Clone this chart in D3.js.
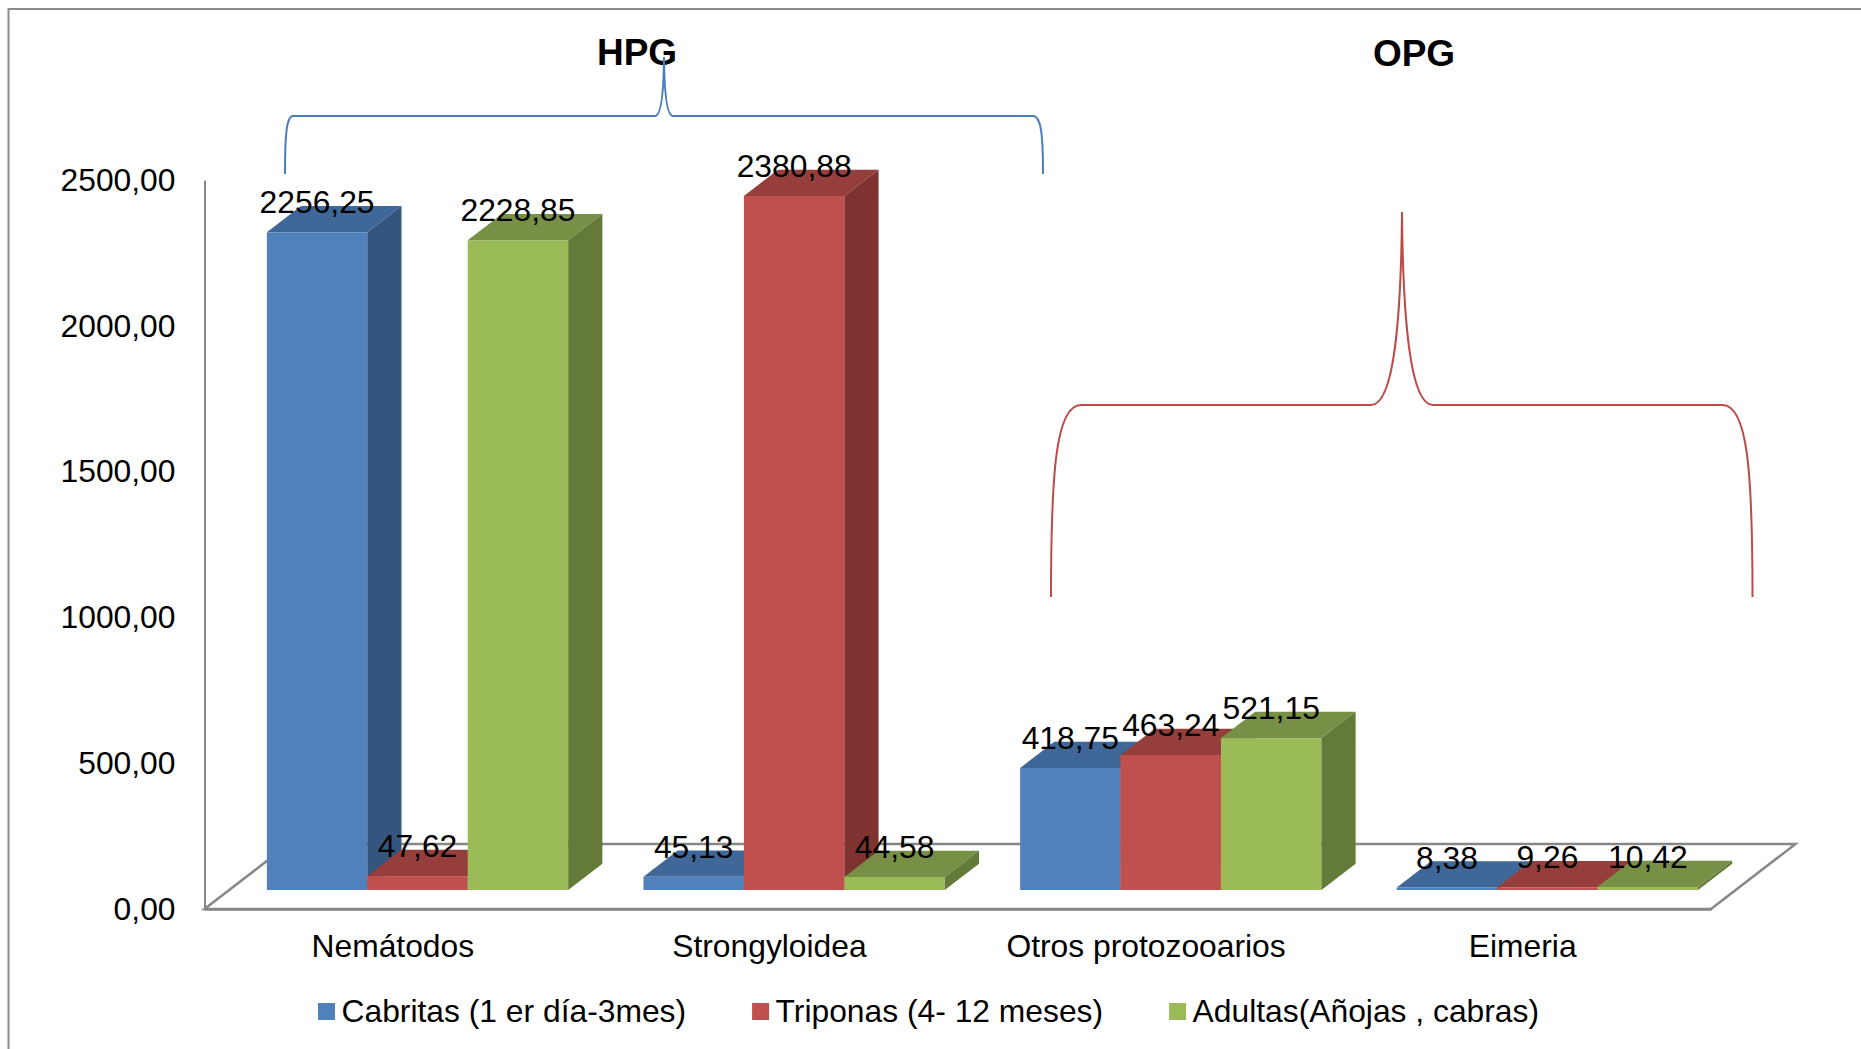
<!DOCTYPE html>
<html>
<head>
<meta charset="utf-8">
<script src="https://cdn.jsdelivr.net/npm/d3@7"></script>
<style>
  html, body { margin: 0; padding: 0; background: #ffffff; }
  svg { display: block; }
  text { font-family: "Liberation Sans", Arial, sans-serif; fill: #000; }
</style>
</head>
<body>
<svg id="chart" width="1861" height="1049"></svg>
<script>
// ---- data ----
const categories = ["Nemátodos", "Strongyloidea", "Otros protozooarios", "Eimeria"];
const seriesNames = ["Cabritas (1 er día-3mes)", "Triponas (4- 12 meses)", "Adultas(Añojas , cabras)"];
const cabritas = [2256.25, 45.13, 418.75, 8.38];
const triponas = [47.62, 2380.88, 463.24, 9.26];
const adultas  = [2228.85, 44.58, 521.15, 10.42];
const yTicks = [0, 500, 1000, 1500, 2000, 2500];
const groupTitles = ["HPG", "OPG"];

// ---- styles ----
const frontColors = ["#4F81BD", "#C0504D", "#9BBB59"];
const topColors   = ["#3F6797", "#953E3B", "#779045"];
const sideColors  = ["#34567E", "#7E3331", "#647A38"];
const axisGray = "#878787";
const FONT = 31.8;

const W = 1861, H = 1049;
const svg = d3.select("#chart");

// outer frame
svg.append("rect")
  .attr("x", 8.5).attr("y", 9)
  .attr("width", W + 20).attr("height", H + 20)
  .attr("fill", "none").attr("stroke", "#8c8c8c").attr("stroke-width", 2);

// ---- 3D geometry ----
const floorX0 = 204.5, floorX1 = 1711, floorY = 909;
const floorDepth = 65;        // depth of the floor, in screen px (vertical)
const DXZ = 1.3;              // horizontal shift per px of depth
const barZ0 = 19, barZ1 = 45.3;
const proj = (px, py, z) => [px + z * DXZ, py - z];

const series = [cabritas, triponas, adultas];
const rows = categories.map((c, i) => ({
  category: c,
  values: series.map((s, j) => ({ key: seriesNames[j], index: j, value: s[i] }))
}));

const x = d3.scaleBand().domain(categories).range([floorX0, floorX1])
  .paddingInner(0.2).paddingOuter(0.1);
const xSeries = d3.scaleBand().domain(seriesNames).range([0, x.bandwidth()]);
const xCat = d3.scaleBand().domain(categories).range([floorX0, floorX1]);
const y = d3.scaleLinear().domain([0, 2500]).range([floorY, 180.3]);

const locale = d3.formatLocale({ decimal: ",", thousands: ".", grouping: [3], currency: ["", ""] });
const fmt = locale.format(".2f");

// floor outline
const floorPts = [
  proj(floorX0, floorY, 0), proj(floorX1, floorY, 0),
  proj(floorX1, floorY, floorDepth), proj(floorX0, floorY, floorDepth)
];
svg.append("polygon")
  .attr("points", floorPts.map(p => p.join(",")).join(" "))
  .attr("fill", "#ffffff").attr("stroke", axisGray).attr("stroke-width", 2.5)
  .attr("stroke-linejoin", "miter");

// value axis
const yAxis = svg.append("g")
  .attr("transform", `translate(${floorX0},0)`)
  .call(d3.axisLeft(y).tickValues(yTicks).tickFormat(fmt).tickSize(0).tickSizeOuter(0).tickPadding(29));
yAxis.select(".domain").attr("stroke", axisGray).attr("stroke-width", 2);
yAxis.selectAll("text").style("font-size", FONT + "px").attr("fill", "#000");

// category axis (front edge of the floor)
const xAxis = svg.append("g")
  .attr("transform", `translate(0,${floorY})`)
  .call(d3.axisBottom(xCat).tickSize(0).tickSizeOuter(0));
xAxis.select(".domain").attr("stroke", axisGray).attr("stroke-width", 2.5);
xAxis.selectAll("text").style("font-size", FONT + "px").attr("fill", "#000")
  .attr("dy", null).attr("y", 48);

// ---- bars ----
const bw = xSeries.bandwidth();
const barsG = svg.append("g");
rows.forEach(row => {
  row.values.forEach(d => {
    const bx0 = x(row.category) + xSeries(d.key);
    const bx1 = bx0 + bw;
    const yt = y(d.value), yb = y(0);
    const g = barsG.append("g");
    // front face
    const f0 = proj(bx0, yt, barZ0), f1 = proj(bx1, yb, barZ0);
    g.append("rect")
      .attr("x", f0[0]).attr("y", f0[1])
      .attr("width", f1[0] - f0[0]).attr("height", f1[1] - f0[1])
      .attr("fill", frontColors[d.index]);
    // top face
    const top = [proj(bx0, yt, barZ0), proj(bx1, yt, barZ0), proj(bx1, yt, barZ1), proj(bx0, yt, barZ1)];
    g.append("polygon").attr("points", top.map(p => p.join(",")).join(" "))
      .attr("fill", topColors[d.index]);
    // side face
    const side = [proj(bx1, yt, barZ0), proj(bx1, yt, barZ1), proj(bx1, yb, barZ1), proj(bx1, yb, barZ0)];
    g.append("polygon").attr("points", side.map(p => p.join(",")).join(" "))
      .attr("fill", sideColors[d.index]);
  });
});

// data labels
const labelsG = svg.append("g");
rows.forEach(row => {
  row.values.forEach(d => {
    const cx = x(row.category) + xSeries(d.key) + bw / 2;
    const p = proj(cx, y(d.value), barZ0);
    labelsG.append("text")
      .attr("x", p[0]).attr("y", p[1] - 19)
      .attr("text-anchor", "middle")
      .style("font-size", FONT + "px")
      .text(fmt(d.value));
  });
});

// group titles
const titlePos = [[637, 65], [1414, 66]];
groupTitles.forEach((t, i) => {
  svg.append("text")
    .attr("x", titlePos[i][0]).attr("y", titlePos[i][1])
    .attr("text-anchor", "middle")
    .style("font-size", "37px").style("font-weight", "bold")
    .text(t);
});

// curly braces grouping the categories
function bracePath(b) {
  const p = d3.path();
  const h = b.yEnd - b.yBar;
  const th = b.yBar - b.yTip;
  p.moveTo(b.xL, b.yEnd);
  p.bezierCurveTo(b.xL, b.yBar + h * 0.34, b.xL + b.cwL * 0.17, b.yBar, b.xL + b.cwL, b.yBar);
  p.lineTo(b.xTip - b.tw, b.yBar);
  p.bezierCurveTo(b.xTip - b.tw * 0.25, b.yBar, b.xTip - b.tw * 0.03, b.yBar - th * 0.45, b.xTip, b.yTip);
  p.bezierCurveTo(b.xTip + b.tw * 0.03, b.yBar - th * 0.45, b.xTip + b.tw * 0.25, b.yBar, b.xTip + b.tw, b.yBar);
  p.lineTo(b.xR - b.cwR, b.yBar);
  p.bezierCurveTo(b.xR - b.cwR * 0.17, b.yBar, b.xR, b.yBar + h * 0.34, b.xR, b.yEnd);
  return p.toString();
}
const braces = [
  { xL: 285, xR: 1043, yEnd: 174, yBar: 116, xTip: 664, yTip: 57, cwL: 8, cwR: 10, tw: 9, color: "#4A7EBB" },
  { xL: 1051, xR: 1752.5, yEnd: 597, yBar: 405, xTip: 1402, yTip: 212, cwL: 30, cwR: 30, tw: 31, color: "#BE4B48" }
];
braces.forEach(b => {
  svg.append("path").attr("d", bracePath(b))
    .attr("fill", "none").attr("stroke", b.color).attr("stroke-width", 2);
});

// legend
const legend = svg.append("g");
let lx = 318;
seriesNames.forEach((name, i) => {
  legend.append("rect")
    .attr("x", lx).attr("y", 1003).attr("width", 17).attr("height", 17)
    .attr("fill", frontColors[i]);
  const t = legend.append("text")
    .attr("x", lx + 23.5).attr("y", 1021.5)
    .style("font-size", FONT + "px")
    .text(name);
  lx += 23.5 + t.node().getComputedTextLength() + 66;
});
</script>
</body>
</html>
